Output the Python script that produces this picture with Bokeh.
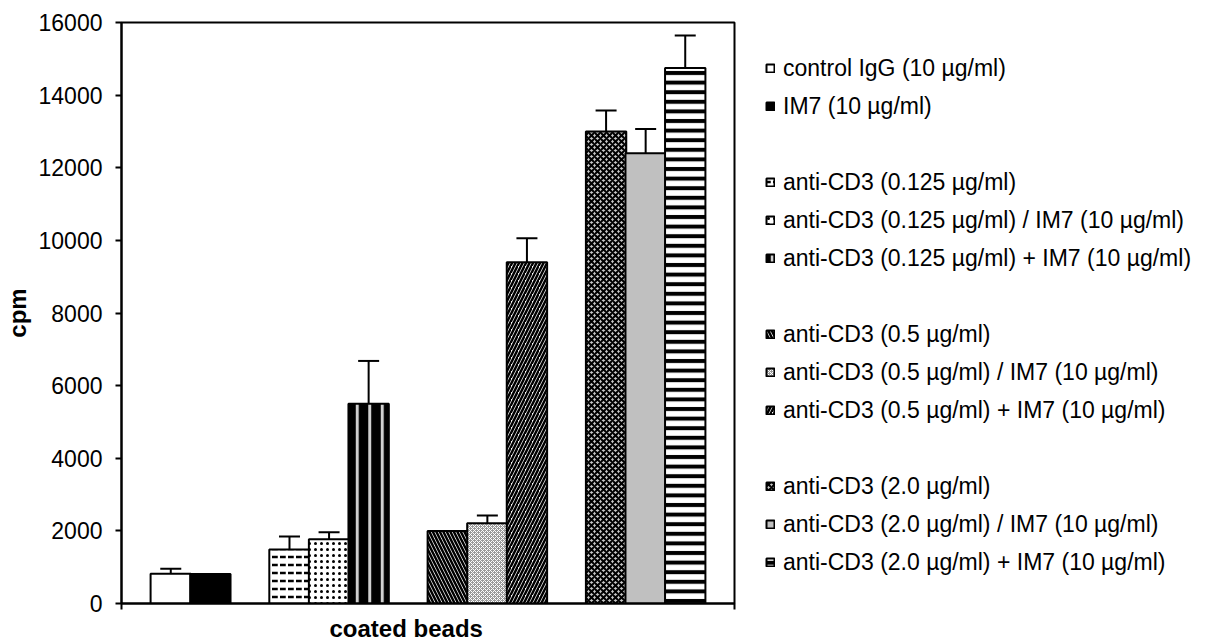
from bokeh.plotting import figure
from bokeh.layouts import row
from bokeh.models import (Range1d, FixedTicker, Legend, LegendItem, Whisker, TeeHead,
                          ColumnDataSource, Title)
from bokeh.embed import file_html
from bokeh.resources import INLINE

# ---- data (Excel-style single category with 14 series, 3 of them blank spacers) ----
series = [
    "control IgG (10 µg/ml)",
    "IM7 (10 µg/ml)",
    None,
    "anti-CD3 (0.125 µg/ml)",
    "anti-CD3 (0.125 µg/ml) / IM7 (10 µg/ml)",
    "anti-CD3 (0.125 µg/ml) + IM7 (10 µg/ml)",
    None,
    "anti-CD3 (0.5 µg/ml)",
    "anti-CD3 (0.5 µg/ml) / IM7 (10 µg/ml)",
    "anti-CD3 (0.5 µg/ml) + IM7 (10 µg/ml)",
    None,
    "anti-CD3 (2.0 µg/ml)",
    "anti-CD3 (2.0 µg/ml) / IM7 (10 µg/ml)",
    "anti-CD3 (2.0 µg/ml) + IM7 (10 µg/ml)",
]
cpm = [820, 815, None, 1490, 1770, 5500, None, 1995, 2210, 9400, None, 13000, 12400, 14750]
sem = [137, 0, None, 355, 195, 1180, None, 0, 212, 660, None, 578, 670, 890]
y_ticks = [0, 2000, 4000, 6000, 8000, 10000, 12000, 14000, 16000]
category = "coated beads"
y_title = "cpm"

# ---- styles (fill / hatch per series) ----
styles = [
    dict(fill_color="white"),
    dict(fill_color="black"),
    None,
    dict(fill_color="white", hatch_pattern='"', hatch_color="black", hatch_scale=8, hatch_weight=2.5),
    dict(fill_color="white", hatch_pattern=".", hatch_color="black", hatch_scale=6, hatch_weight=4),
    dict(fill_color="black", hatch_pattern="|", hatch_color="#d0d0d0", hatch_scale=12.5, hatch_weight=3),
    None,
    dict(fill_color="white", hatch_pattern="\\", hatch_color="black", hatch_scale=7, hatch_weight=2.5),
    dict(fill_color="#9a9a9a", hatch_pattern="x", hatch_color="white", hatch_scale=4, hatch_weight=1),
    dict(fill_color="white", hatch_pattern="/", hatch_color="black", hatch_scale=7, hatch_weight=2.5),
    None,
    dict(fill_color="#c8c8c8", hatch_pattern="x", hatch_color="black", hatch_scale=6, hatch_weight=2),
    dict(fill_color="#c0c0c0"),
    dict(fill_color="white", hatch_pattern="-", hatch_color="black", hatch_scale=9.6, hatch_weight=4),
]

FONT = "Liberation Sans"
n_slots = len(series)
x_lo, x_hi = -1.245, (n_slots - 1) + 1.245

# ---------------- main chart ----------------
p = figure(width=736, height=644, x_range=Range1d(x_lo, x_hi), y_range=Range1d(0, 16000),
           output_backend="svg", toolbar_location=None,
           min_border_left=119, min_border_right=2, min_border_top=22, min_border_bottom=41)
p.background_fill_color = "white"
p.border_fill_color = "white"
p.outline_line_color = "black"
p.outline_line_width = 2
p.grid.visible = False

wx, wlo, whi = [], [], []
for i, (name, v, e, st) in enumerate(zip(series, cpm, sem, styles)):
    if name is None:
        continue
    p.vbar(x=[i], top=[v], bottom=0, width=1.02, line_color="black", line_width=2, **st)
    wx.append(i)
    wlo.append(v)
    whi.append(v + e)

wsrc = ColumnDataSource(dict(x=wx, lower=wlo, upper=whi))
p.add_layout(Whisker(base="x", lower="lower", upper="upper", source=wsrc,
                     line_color="black", line_width=2,
                     upper_head=TeeHead(size=21, line_width=2, line_color="black"),
                     lower_head=None))

ya = p.yaxis[0]
ya.ticker = FixedTicker(ticks=y_ticks)
ya.major_tick_in = 0
ya.major_tick_out = 6
ya.minor_tick_in = 0
ya.minor_tick_out = 0
ya.major_tick_line_width = 2
ya.axis_line_width = 2
ya.major_label_standoff = 13
ya.major_label_text_font = FONT
ya.major_label_text_font_size = "23px"
ya.major_label_text_color = "black"
ya.axis_label = y_title
ya.axis_label_text_font = FONT
ya.axis_label_text_font_size = "24px"
ya.axis_label_text_font_style = "bold"
ya.axis_label_text_color = "black"
ya.axis_label_standoff = 5

xa = p.xaxis[0]
xa.ticker = FixedTicker(ticks=[x_lo, x_hi])
xa.major_label_overrides = {x_lo: "", x_hi: ""}
xa.major_label_text_font_size = "0px"
xa.major_label_standoff = 0
xa.major_tick_in = 0
xa.major_tick_out = 6
xa.minor_tick_in = 0
xa.minor_tick_out = 0
xa.major_tick_line_width = 2
xa.axis_line_width = 2

p.add_layout(Title(text=category, align="left", offset=208, standoff=6,
                   text_font=FONT, text_font_size="24px", text_font_style="bold",
                   text_color="black"), "below")

# ---------------- legend panel ----------------
lg = figure(width=472, height=644, x_range=Range1d(0, 1), y_range=Range1d(0, 1),
            output_backend="svg", toolbar_location=None,
            min_border_left=0, min_border_right=0, min_border_top=0, min_border_bottom=0)
lg.axis.visible = False
lg.grid.visible = False
lg.outline_line_color = None
lg.background_fill_color = "white"
lg.border_fill_color = "white"

items = []
for i, (name, v, st) in enumerate(zip(series, cpm, styles)):
    if name is None:
        r = lg.vbar(x=[i], top=[0], width=1.0, fill_alpha=0, line_alpha=0, visible=False)
        items.append(LegendItem(label=" ", renderers=[r]))
    else:
        # hidden twin of each bar, used only to draw the legend swatch
        r = lg.vbar(x=[i], top=[v], width=1.0, line_color="black", line_width=2,
                    visible=False, **st)
        items.append(LegendItem(label=name, renderers=[r]))

legend = Legend(items=items, location=(29, 22))
legend.label_text_font = FONT
legend.label_text_font_size = "23px"
legend.label_text_color = "black"
legend.glyph_width = 10
legend.glyph_height = 10
legend.label_standoff = 8
legend.label_height = 38
legend.spacing = 0
legend.padding = 0
legend.margin = 0
legend.border_line_alpha = 0
legend.background_fill_alpha = 0
legend.inactive_fill_alpha = 0
lg.add_layout(legend)

layout = row(p, lg, spacing=0)
open("out.html", "w").write(file_html(layout, INLINE))
